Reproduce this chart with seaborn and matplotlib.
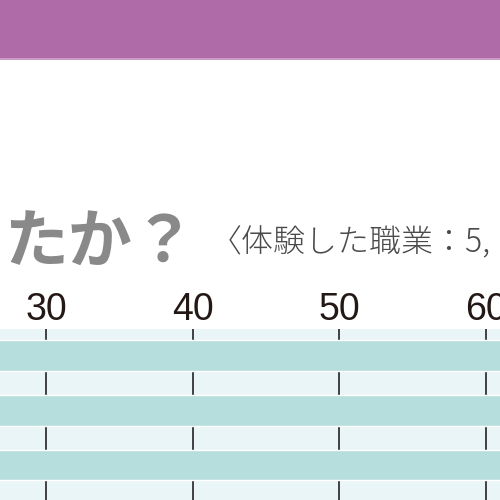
import matplotlib
matplotlib.use("Agg")
import matplotlib.pyplot as plt
import seaborn as sns
import pandas as pd
from matplotlib.patches import Rectangle

# data (bars extend beyond the visible crop)
categories = ["項目A", "項目B", "項目C"]
values = [72.0, 68.0, 66.0]
ticks = [30, 40, 50, 60]
title_text = "たか？"
subtitle_text = "〈体験した職業：5,"

sns.set_theme(style="white")
plt.rcParams["font.family"] = ["Liberation Sans", "Noto Sans CJK JP", "DejaVu Sans"]

df = pd.DataFrame({"cat": categories, "val": values})

fig = plt.figure(figsize=(5, 5), dpi=100)
fig.patch.set_facecolor("white")
fig.patches.append(Rectangle((0, 1 - 58 / 500), 1, 58 / 500, transform=fig.transFigure,
                             facecolor="#AE6BA8", edgecolor="none", zorder=0))
fig.patches.append(Rectangle((0, 1 - 59.5 / 500), 1, 1.5 / 500, transform=fig.transFigure,
                             facecolor="#C99BC5", edgecolor="none", zorder=0))

ax = fig.add_axes([0, 0, 1, 171 / 500])
ax.set_facecolor("#EAF5F7")
sns.barplot(data=df, x="val", y="cat", orient="h", color="#B5DEDD", saturation=1,
            width=0.56, ax=ax, zorder=2)
ax.set_xlim(26.85, 60.95)
ax.set_ylim(2.64, -0.49)
ax.set_xticks(ticks)
ax.set_xticklabels([str(t) for t in ticks], fontsize=27, color="#231815",
                   family=["Liberation Sans", "DejaVu Sans"])
ax.xaxis.tick_top()
ax.tick_params(axis="x", length=0, pad=1)
ax.set_yticks([])
ax.set_xlabel("")
ax.set_ylabel("")
for s in ax.spines.values():
    s.set_visible(False)
ax.set_axisbelow(True)
ax.grid(axis="x", color="#333333", linewidth=1.3, zorder=0)
ax.grid(axis="y", visible=False)

fig.text(196 / 500, 1 - 263 / 500, title_text, ha="right", va="baseline",
         fontsize=46, fontweight="bold", color="#898989",
         family=["Noto Sans CJK JP", "DejaVu Sans"])
fig.text(210 / 500, 1 - 252 / 500, subtitle_text, ha="left", va="baseline",
         fontsize=23, fontweight="light", color="#4a4a4a",
         family=["Noto Sans CJK JP", "DejaVu Sans"])

fig.savefig("out.png", dpi=100)
